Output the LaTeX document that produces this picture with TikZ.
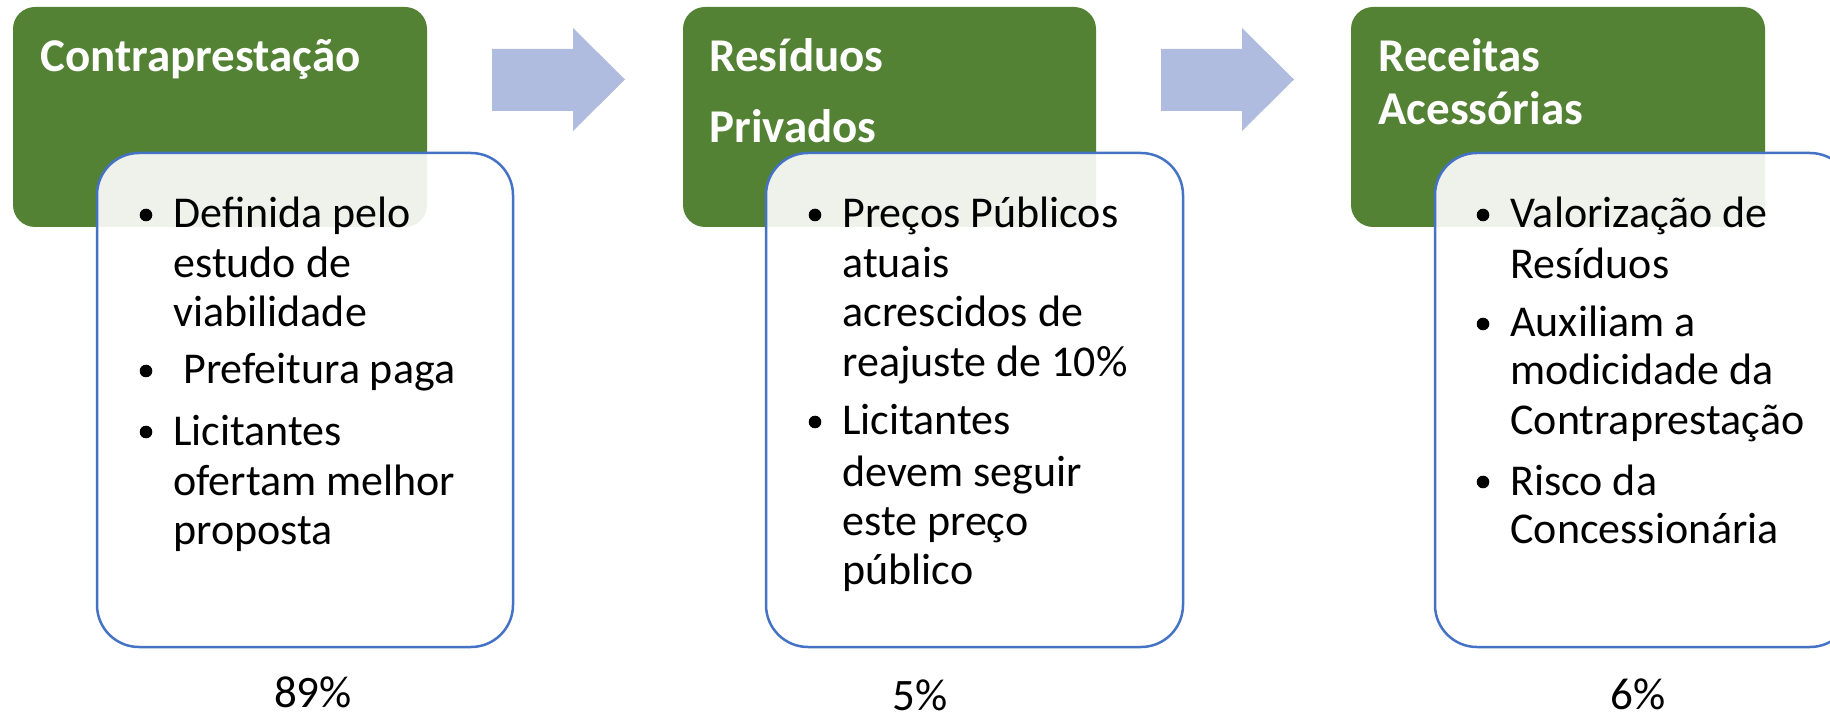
\documentclass[tikz,border=0pt]{standalone}
\usepackage{fontspec}
\setmainfont{Carlito}
\definecolor{boxgreen}{HTML}{548235}
\definecolor{boxblue}{HTML}{4472C4}
\definecolor{arrowblue}{HTML}{AFBCDF}
\tikzset{
  greenbox/.style={fill=boxgreen, rounded corners=11pt},
  whitebox/.style={fill=white, fill opacity=0.9, draw=boxblue, line width=1.25pt, rounded corners=21pt},
  blockarrow/.style={fill=arrowblue},
  head/.style={font=\fontsize{23.5pt}{28pt}\bfseries\selectfont, text=white, inner sep=0pt, anchor=base west},
  body/.style={font=\fontsize{22pt}{26pt}\selectfont, inner sep=0pt, anchor=base west},
  bul/.style={circle, fill=black, inner sep=0pt, minimum size=6.3pt},
  pct/.style={font=\fontsize{22.5pt}{27pt}\selectfont, inner sep=0pt, anchor=base}
}
\begin{document}
\begin{tikzpicture}[x=0.5pt,y=-0.5pt]
\useasboundingbox (0,0) rectangle (1830,716);

% ---------- group 1 ----------
\path[greenbox] (13,7) rectangle (427,227);
\node[head] (h1) at (40,72) {Contraprestação};
\path[whitebox] (97,153) rectangle (513,647);
\node[bul] (b11) at (146,215) {};
\node[body] (t11) at (173,228) {Definida pelo};
\node[body] (t12) at (173,278) {estudo de};
\node[body] (t13) at (173,327) {viabilidade};
\node[bul] (b12) at (146,371) {};
\node[body] (t14) at (173,384) {\ Prefeitura paga};
\node[bul] (b13) at (146,432) {};
\node[body] (t15) at (173,445) {Licitantes};
\node[body] (t16) at (173,495) {ofertam melhor};
\node[body] (t17) at (173,544) {proposta};
\node[pct] (p1) at (313,707) {89\%};

% arrow 1
\path[blockarrow] (492,49) -- (573,49) -- (573,28) -- (625,79.5) -- (573,131) -- (573,111) -- (492,111) -- cycle;

% ---------- group 2 ----------
\path[greenbox] (683,7) rectangle (1096,227);
\node[head] (h21) at (709,72) {Resíduos};
\node[head] (h22) at (709,143) {Privados};
\path[whitebox] (766,153) rectangle (1183,647);
\node[bul] (b21) at (815,215) {};
\node[body] (t21) at (842,228) {Preços Públicos};
\node[body] (t22) at (842,278) {atuais};
\node[body] (t23) at (842,327) {acrescidos de};
\node[body] (t24) at (842,377) {reajuste de 10\%};
\node[bul] (b22) at (815,422) {};
\node[body] (t25) at (842,435) {Licitantes};
\node[body] (t26) at (842,486) {devem seguir};
\node[body] (t27) at (842,535) {este preço};
\node[body] (t28) at (842,584) {público};
\node[pct] (p2) at (920,710) {5\%};

% arrow 2
\path[blockarrow] (1161,49) -- (1242,49) -- (1242,28) -- (1294,79.5) -- (1242,131) -- (1242,111) -- (1161,111) -- cycle;

% ---------- group 3 ----------
\path[greenbox] (1351,7) rectangle (1765,227);
\node[head] (h31) at (1378,72) {Receitas};
\node[head] (h32) at (1378,125) {Acessórias};
\path[whitebox] (1435,153) rectangle (1852,647);
\node[bul] (b31) at (1483,215) {};
\node[body] (t31) at (1510,228) {Valorização de};
\node[body] (t32) at (1510,279) {Resíduos};
\node[bul] (b32) at (1483,324) {};
\node[body] (t33) at (1510,337) {Auxiliam a};
\node[body] (t34) at (1510,385) {modicidade da};
\node[body] (t35) at (1510,435) {Contraprestação};
\node[bul] (b33) at (1483,482) {};
\node[body] (t36) at (1510,495) {Risco da};
\node[body] (t37) at (1510,543) {Concessionária};
\node[pct] (p3) at (1638,709) {6\%};
\end{tikzpicture}
\end{document}
